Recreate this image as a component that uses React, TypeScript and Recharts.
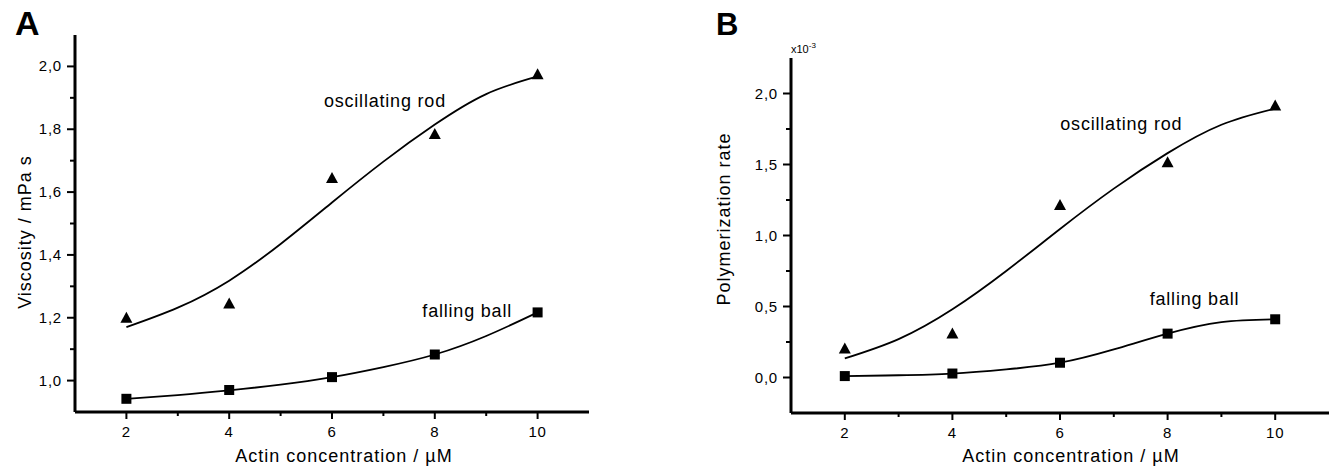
import React from "react";
import { ComposedChart, Line, Scatter, XAxis, YAxis, ReferenceDot } from "recharts";

const FONT = '"Liberation Sans", Arial, Helvetica, sans-serif';

// measured points
const concentration = [2, 4, 6, 8, 10];
const rodViscosity = [1.2, 1.245, 1.645, 1.785, 1.975];
const ballViscosity = [0.942, 0.97, 1.011, 1.083, 1.217];
const rodRate = [0.205, 0.31, 1.215, 1.515, 1.915];
const ballRate = [0.01, 0.028, 0.104, 0.309, 0.41];

// fitted curves
const fitConcentration = [2, 3, 4, 5, 6, 7, 8, 9, 10];
const rodViscosityFit = [1.17, 1.232, 1.318, 1.435, 1.567, 1.697, 1.815, 1.912, 1.968];
const ballViscosityFit = [0.942, 0.954, 0.969, 0.987, 1.011, 1.043, 1.083, 1.142, 1.217];
const rodRateFit = [0.134, 0.27, 0.48, 0.75, 1.046, 1.33, 1.58, 1.78, 1.894];
const ballRateFit = [0.009, 0.016, 0.028, 0.057, 0.104, 0.198, 0.309, 0.39, 0.41];

// axes
const xTicks = [2, 3, 4, 5, 6, 7, 8, 9, 10];
const viscosityTicks = [1.0, 1.1, 1.2, 1.3, 1.4, 1.5, 1.6, 1.7, 1.8, 1.9, 2.0];
const rateTicks = [0, 0.25, 0.5, 0.75, 1.0, 1.25, 1.5, 1.75, 2.0];

const pts = (xs: number[], ys: number[]) => xs.map((x, i) => ({ x, y: ys[i] }));
const fmt = (v: number) => v.toFixed(1).replace(".", ",");

const XTick = (props: any) => {
  const { x, y, payload } = props;
  const major = payload.value % 2 === 0;
  return (
    <g>
      <line x1={x} y1={y} x2={x} y2={y + (major ? 7 : 4)} stroke="#000" strokeWidth={2} />
      {major && (
        <text x={x} y={y + 25} textAnchor="middle" fontSize={15} fontFamily={FONT} letterSpacing={0.8} fill="#000">
          {payload.value}
        </text>
      )}
    </g>
  );
};

const makeYTick = (isMajor: (v: number) => boolean) => (props: any) => {
  const { x, y, payload } = props;
  const major = isMajor(payload.value);
  return (
    <g>
      <line x1={x - (major ? 8 : 5)} y1={y} x2={x} y2={y} stroke="#000" strokeWidth={2} />
      {major && (
        <text x={x - 13} y={y + 5} textAnchor="end" fontSize={15} fontFamily={FONT} letterSpacing={0.8} fill="#000">
          {fmt(payload.value)}
        </text>
      )}
    </g>
  );
};

const Triangle = (p: any) => (
  <polygon
    points={`${p.cx - 6},${p.cy + 5} ${p.cx + 6},${p.cy + 5} ${p.cx},${p.cy - 6}`}
    fill="#000"
  />
);
const Square = (p: any) => <rect x={p.cx - 5} y={p.cy - 5} width={10} height={10} fill="#000" />;

const axisLine = { stroke: "#000", strokeWidth: 3 };
const annot = (value: string) => ({
  value,
  position: "center" as const,
  fontSize: 18,
  fontFamily: FONT,
  letterSpacing: 0.8,
  fill: "#000",
});

const xTitle = (cx: number) => () => (
  <text x={cx} y={462} textAnchor="middle" fontSize={18} fontFamily={FONT} letterSpacing={1} fill="#000">
    Actin concentration / µM
  </text>
);
const yTitle = (cx: number, cy: number, value: string) => () => (
  <text
    x={cx}
    y={cy}
    transform={`rotate(-90 ${cx} ${cy})`}
    textAnchor="middle"
    dominantBaseline="central"
    fontSize={18}
    fontFamily={FONT}
    letterSpacing={1}
    fill="#000"
  >
    {value}
  </text>
);

export default function App() {
  return (
    <div style={{ position: "absolute", left: 0, top: 0, width: 1332, height: 466, background: "#fff" }}>
      {/* Panel A — viscosity */}
      <div style={{ position: "absolute", left: 0, top: 0 }}>
        <ComposedChart width={660} height={466} margin={{ top: 35, right: 71, bottom: 0, left: 0 }}>
          <XAxis
            type="number"
            dataKey="x"
            domain={[1, 11]}
            ticks={xTicks}
            interval={0}
            tickLine={false}
            tickSize={0}
            tickMargin={0}
            tick={XTick}
            axisLine={axisLine}
            height={54}
            label={{ content: xTitle(344) }}
          />
          <YAxis
            type="number"
            dataKey="y"
            domain={[0.9, 2.1]}
            ticks={viscosityTicks}
            interval={0}
            tickLine={false}
            tickSize={0}
            tickMargin={0}
            tick={makeYTick((v) => Math.round(v * 10) % 2 === 0)}
            axisLine={axisLine}
            width={75}
            label={{ content: yTitle(25, 232, "Viscosity / mPa s") }}
          />
          <Line data={pts(fitConcentration, rodViscosityFit)} dataKey="y" type="natural" stroke="#000" strokeWidth={1.8} dot={false} isAnimationActive={false} />
          <Line data={pts(fitConcentration, ballViscosityFit)} dataKey="y" type="natural" stroke="#000" strokeWidth={1.8} dot={false} isAnimationActive={false} />
          <Scatter data={pts(concentration, rodViscosity)} dataKey="y" shape={Triangle} isAnimationActive={false} />
          <Scatter data={pts(concentration, ballViscosity)} dataKey="y" shape={Square} isAnimationActive={false} />
          <ReferenceDot x={7.03} y={1.89} r={0} stroke="none" fill="none" label={annot("oscillating rod")} />
          <ReferenceDot x={8.63} y={1.224} r={0} stroke="none" fill="none" label={annot("falling ball")} />
        </ComposedChart>
      </div>

      {/* Panel B — polymerization rate */}
      <div style={{ position: "absolute", left: 700, top: 0 }}>
        <ComposedChart width={632} height={466} margin={{ top: 58, right: 3, bottom: 0, left: 0 }}>
          <XAxis
            type="number"
            dataKey="x"
            domain={[1, 11]}
            ticks={xTicks}
            interval={0}
            tickLine={false}
            tickSize={0}
            tickMargin={0}
            tick={XTick}
            axisLine={axisLine}
            height={53}
            label={{ content: xTitle(371) }}
          />
          <YAxis
            type="number"
            dataKey="y"
            domain={[-0.25, 2.25]}
            ticks={rateTicks}
            interval={0}
            tickLine={false}
            tickSize={0}
            tickMargin={0}
            tick={makeYTick((v) => Math.round(v * 4) % 2 === 0)}
            axisLine={axisLine}
            width={91}
            label={{ content: yTitle(24, 219, "Polymerization rate") }}
          />
          <Line data={pts(fitConcentration, rodRateFit)} dataKey="y" type="natural" stroke="#000" strokeWidth={1.8} dot={false} isAnimationActive={false} />
          <Line data={pts(fitConcentration, ballRateFit)} dataKey="y" type="natural" stroke="#000" strokeWidth={1.8} dot={false} isAnimationActive={false} />
          <Scatter data={pts(concentration, rodRate)} dataKey="y" shape={Triangle} isAnimationActive={false} />
          <Scatter data={pts(concentration, ballRate)} dataKey="y" shape={Square} isAnimationActive={false} />
          <ReferenceDot x={7.14} y={1.788} r={0} stroke="none" fill="none" label={annot("oscillating rod")} />
          <ReferenceDot x={8.5} y={0.558} r={0} stroke="none" fill="none" label={annot("falling ball")} />
        </ComposedChart>
      </div>

      {/* panel letters and exponent */}
      <svg width={1332} height={466} style={{ position: "absolute", left: 0, top: 0, pointerEvents: "none" }}>
        <text x={15} y={35} fontSize={34} fontWeight="bold" fontFamily={FONT} fill="#000">A</text>
        <text x={716} y={35} fontSize={31} fontWeight="bold" fontFamily={FONT} fill="#000">B</text>
        <text x={791} y={53} fontSize={11} fontFamily={FONT} fill="#000">
          x10<tspan fontSize={8} dy={-5}>-3</tspan>
        </text>
      </svg>
    </div>
  );
}
